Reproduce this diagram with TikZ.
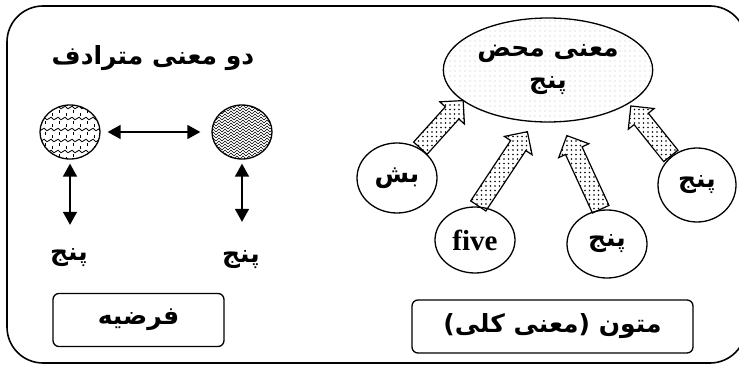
\documentclass[tikz,border=0pt]{standalone}
\usepackage{fontspec}
\setmainfont{Liberation Serif}
\newfontfamily\farsi[Script=Arabic]{DejaVu Sans}
\TeXXeTstate=1
\usepackage{tikz}
\usetikzlibrary{shapes,arrows.meta,positioning,patterns.meta}

\newcommand{\fa}[1]{{\farsi\bfseries\beginR #1\endR}}

\tikzdeclarepattern{
  name=scales,
  type=uncolored,
  bottom left={(-.5pt,-.5pt)},
  top right={(14.5pt,11.5pt)},
  tile size={(14pt,11pt)},
  code={
    \draw[line width=.8pt] (0pt,5.5pt) .. controls (3.5pt,10pt) and (3.5pt,1pt) .. (7pt,5.5pt)
      .. controls (10.5pt,10pt) and (10.5pt,1pt) .. (14pt,5.5pt);
    \draw[line width=.8pt] (3.5pt,0pt) -- (3.5pt,3pt) (10.5pt,8pt) -- (10.5pt,11pt);
  }
}
\tikzdeclarepattern{
  name=herring,
  type=uncolored,
  bottom left={(-.5pt,-.5pt)},
  top right={(6.5pt,6.5pt)},
  tile size={(6pt,6pt)},
  code={
    \draw[line width=.6pt] (0pt,0pt) -- (3pt,3pt) -- (6pt,0pt);
    \draw[line width=.6pt] (0pt,3pt) -- (3pt,6pt) -- (6pt,3pt);
  }
}

\begin{document}
\begin{tikzpicture}[x=1pt,y=-1pt,
  word/.style={font=\fontsize{25}{30}\selectfont},
  lbl/.style={font=\fontsize{25}{30}\selectfont, inner sep=0pt, text height=18pt, text depth=8pt},
  bubble/.style={draw, ellipse, line width=1.3pt, minimum width=80pt, minimum height=70pt, inner sep=0pt, font=\fontsize{25}{30}\selectfont},
  syn/.style={draw, ellipse, line width=1.3pt, minimum width=60pt, minimum height=54pt, inner sep=0pt},
  labelbox/.style={draw, rounded corners=6pt, line width=1.3pt, font=\fontsize{25}{30}\selectfont},
  dblarrow/.style={line width=1.6pt, {Triangle[length=13pt,width=14pt]}-{Triangle[length=13pt,width=14pt]}},
  fatarrow/.style={single arrow, draw, line width=1.2pt, pattern={Dots[distance=4.5pt,radius=.8pt]},
    single arrow head extend=7.5pt, inner xsep=0pt, inner ysep=8.5pt, anchor=tail}
]
\useasboundingbox (0,0) rectangle (739,366);
\draw[line width=1.6pt, rounded corners=36pt] (7,6) rectangle (746,363);

% left part
\node[word] (title) at (153,58) {\fa{دو معنی مترادف}};
\node[syn, pattern=scales] (synA) at (70,132) {};
\node[syn, pattern=herring] (synB) at (242,132) {};
\node[lbl] (wordA) at (69,255) {\fa{پنج}};
\node[lbl] (wordB) at (241,257) {\fa{پنج}};
\node[labelbox, minimum width=171pt, minimum height=53pt] (hypo) at (138.5,320) {\fa{فرضیه}};

\draw[dblarrow, shorten <=7pt, shorten >=11pt] (synA) -- (synB);
\draw[dblarrow, shorten <=4pt, shorten >=17pt] (synA.south) -- (synA |- wordA.north);
\draw[dblarrow, shorten <=4pt, shorten >=22pt] (synB.south) -- (synB |- wordB.north);

% right part
\node[draw, ellipse, line width=1.3pt, minimum width=196pt, minimum height=104pt,
  pattern={Dots[distance=5pt,radius=.6pt]}, pattern color=gray!50, align=center,
  font=\fontsize{25}{32}\selectfont] (mahz) at (548,70) {\fa{معنی محض}\\\fa{پنج}\rule[-6pt]{0pt}{6pt}};
\node[bubble] (bash) at (397,178) {\fa{بش}};
\node[bubble, minimum height=66pt, font=\fontsize{29}{30}\selectfont\bfseries] (five) at (475,240) {five};
\node[bubble, minimum height=68pt] (mid) at (607,244) {\fa{پنج}};
\node[bubble, minimum width=78pt, minimum height=74pt] (far) at (697,185) {\fa{پنج}};
\node[labelbox, minimum width=281pt, minimum height=53pt] (texts) at (552.5,326.5) {\fa{متون (معنی کلی)}};

\node[fatarrow, rotate=48, minimum height=64pt] (ar1) at (bash.52) {};
\node[fatarrow, rotate=56.5, minimum height=89pt] (ar2) at (five.85) {};
\node[fatarrow, rotate=114.7, minimum height=81pt] (ar3) at (mid.100) {};
\node[fatarrow, rotate=128.7, minimum height=64pt] (ar4) at (far.132) {};
\end{tikzpicture}
\end{document}
